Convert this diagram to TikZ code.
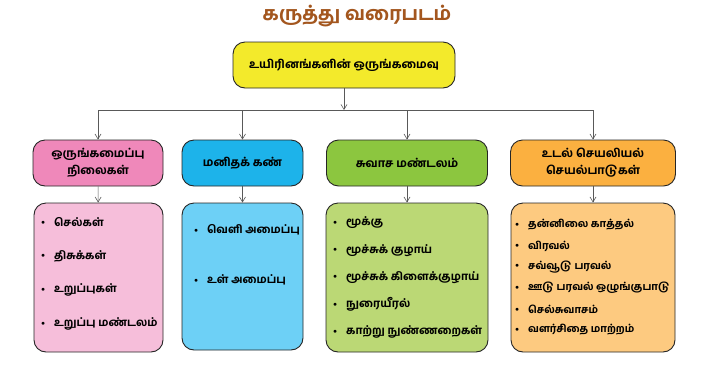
\documentclass[tikz,border=0pt]{standalone}
\usepackage{fontspec}
\newfontfamily\tamilfont[Script=Tamil, BoldFont={Hind Madurai Bold}]{Hind Madurai}
\usetikzlibrary{arrows.meta}

\definecolor{titlebrown}{HTML}{A3561E}
\definecolor{rootyellow}{HTML}{F3EA2B}
\definecolor{headpink}{HTML}{EF88BA}
\definecolor{listpink}{HTML}{F6BEDA}
\definecolor{headblue}{HTML}{1DB3EA}
\definecolor{listblue}{HTML}{6DD0F6}
\definecolor{headgreen}{HTML}{8CC63F}
\definecolor{listgreen}{HTML}{BBD875}
\definecolor{headorange}{HTML}{FBB040}
\definecolor{listorange}{HTML}{FDCA80}

\tikzset{
  box/.style={draw=black!85, line width=0.9pt, rounded corners=12pt, align=center, inner sep=0pt,
    font=\tamilfont\bfseries\fontsize{11.5}{17}\selectfont},
  item/.style={anchor=west, inner sep=0pt, font=\tamilfont\bfseries\fontsize{11}{13}\selectfont},
  link/.style={draw=black!65, line width=0.6pt, -{Straight Barb[length=5pt,width=6pt]}}
}
\newcommand{\bul}{\makebox[13pt][l]{\raisebox{1.5pt}{\scriptsize$\bullet$}}}

\begin{document}
\begin{tikzpicture}[x=1pt,y=-1pt]
    \useasboundingbox (0,0) rectangle (710,365);
    % Title
    \node[font=\tamilfont\bfseries\fontsize{19}{22}\selectfont, text=titlebrown] (title) at (357,16) {கருத்து வரைபடம்};
    % Root box
    \node[box, fill=rootyellow, minimum width=222pt, minimum height=46pt] (root) at (344,65) {உயிரினங்களின் ஒருங்கமைவு};
    % Headers
    \node[box, fill=headpink, minimum width=130pt, minimum height=46pt] (h1) at (98,163) {ஒருங்கமைப்பு\\நிலைகள்};
    \node[box, fill=headblue, minimum width=121pt, minimum height=46pt] (h2) at (242.5,163) {மனிதக் கண்};
    \node[box, fill=headgreen, minimum width=161pt, minimum height=46pt] (h3) at (407,163) {சுவாச மண்டலம்};
    \node[box, fill=headorange, minimum width=165pt, minimum height=46pt] (h4) at (593,163) {உடல் செயலியல்\\செயல்பாடுகள்};
    % Lists
    \node[box, fill=listpink, minimum width=129pt, minimum height=149pt] (l1) at (98.5,277.5) {};
    \node[box, fill=listblue, minimum width=121pt, minimum height=147pt] (l2) at (242.5,276.5) {};
    \node[box, fill=listgreen, minimum width=162pt, minimum height=149pt] (l3) at (407,277.5) {};
    \node[box, fill=listorange, minimum width=164pt, minimum height=149pt] (l4) at (593,277.5) {};
    % Connectors
    \coordinate (bar) at (0,110);
    \draw[link] (root) -- (root.south |- bar);
    \draw[draw=black!65, line width=0.6pt] (h1.north |- bar) -- (h4.north |- bar);
    \foreach \k in {1,2,3,4} {
        \draw[link] (h\k.north |- bar) -- (h\k.north);
        \draw[link] (h\k) -- (l\k);
    }
    % Items
    \foreach \txt [count=\i] in {செல்கள், திசுக்கள், உறுப்புகள், உறுப்பு மண்டலம்}
        \node[item] (pa\i) at (41,188+34*\i) {\bul\txt};
    \foreach \txt [count=\i] in {வெளி அமைப்பு, உள் அமைப்பு}
        \node[item] (pb\i) at (194,180+50*\i) {\bul\txt};
    \foreach \txt [count=\i] in {மூக்கு, மூச்சுக் குழாய், மூச்சுக் கிளைக்குழாய், நுரையீரல், காற்று நுண்ணறைகள்}
        \node[item] (pc\i) at (333,195.75+27.25*\i) {\bul\txt};
    \foreach \txt [count=\i] in {தன்னிலை காத்தல், விரவல், சவ்வூடு பரவல், ஊடு பரவல் ஒழுங்குபாடு, செல்சுவாசம், வளர்சிதை மாற்றம்}
        \node[item, font=\tamilfont\bfseries\fontsize{10.3}{12}\selectfont] (pd\i) at (515,204+21*\i) {\bul\txt};
\end{tikzpicture}
\end{document}
